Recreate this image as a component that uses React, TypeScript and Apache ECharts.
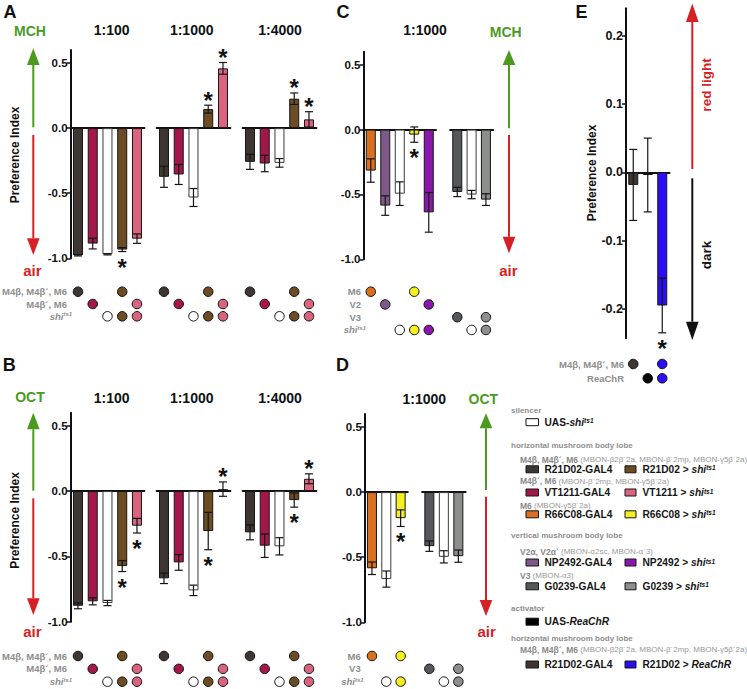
import React, { useEffect, useRef } from 'react';
import * as echarts from 'echarts';

const FONT = '"Liberation Sans", Arial, Helvetica, sans-serif';
const GRAY = '#8e8e8e';
const GREEN = '#4b9a1f';
const RED = '#d71f26';

const COLOR: Record<string, string> = {
  r21: '#3e3632', vt: '#a3174b', shi: '#ffffff', r21shi: '#6c4c23', vtshi: '#da647e',
  r66: '#d8701f', r66shi: '#f5ef22', np: '#7e5888', npshi: '#8b16ae',
  g02: '#55585a', g02shi: '#8c8f8b', rea: '#000000', r21rea: '#2a0ff2',
};

// ---------- Panel A (MCH vs air) and B (OCT vs air): horizontal lobe ----------
const dilutions = ['1:100', '1:1000', '1:4000'];
const hKeys = ['r21', 'vt', 'shi', 'r21shi', 'vtshi'];

const mchMean100 = [-0.977, -0.887, -0.969, -0.933, -0.849];
const mchErr100 = [0.005, 0.041, 0.005, 0.015, 0.036];
const mchSig100 = [0, 0, 0, 1, 0];
const mchMean1000 = [-0.374, -0.356, -0.533, 0.146, 0.459];
const mchErr1000 = [0.081, 0.077, 0.069, 0.03, 0.045];
const mchSig1000 = [0, 0, 0, 1, 1];
const mchMean4000 = [-0.259, -0.272, -0.267, 0.226, 0.067];
const mchErr4000 = [0.058, 0.063, 0.033, 0.044, 0.059];
const mchSig4000 = [0, 0, 0, 1, 1];

const octMean100 = [-0.878, -0.844, -0.857, -0.574, -0.265];
const octErr100 = [0.023, 0.027, 0.02, 0.042, 0.056];
const octSig100 = [0, 0, 0, 1, 1];
const octMean1000 = [-0.668, -0.546, -0.76, -0.306, 0.015];
const octErr1000 = [0.04, 0.06, 0.04, 0.143, 0.055];
const octSig1000 = [0, 0, 0, 1, 1];
const octMean4000 = [-0.316, -0.418, -0.423, -0.069, 0.094];
const octErr4000 = [0.057, 0.09, 0.066, 0.054, 0.038];
const octSig4000 = [0, 0, 0, 1, 1];

// ---------- Panel C (MCH, 1:1000): M6 / V2 / V3 ----------
const cKeysM6V2 = ['r66', 'np', 'shi', 'r66shi', 'npshi'];
const mchM6V2Mean = [-0.316, -0.586, -0.494, -0.039, -0.638];
const mchM6V2Err = [0.09, 0.075, 0.091, 0.059, 0.153];
const mchM6V2Sig = [0, 0, 0, 1, 0];
const v3Keys = ['g02', 'shi', 'g02shi'];
const mchV3Mean = [-0.481, -0.501, -0.54];
const mchV3Err = [0.036, 0.032, 0.045];
const mchV3Sig = [0, 0, 0];

// ---------- Panel D (OCT, 1:1000): M6 / V3 ----------
const dKeysM6 = ['r66', 'shi', 'r66shi'];
const octM6Mean = [-0.585, -0.668, -0.2];
const octM6Err = [0.048, 0.062, 0.064];
const octM6Sig = [0, 0, 1];
const octV3Mean = [-0.415, -0.497, -0.492];
const octV3Err = [0.04, 0.047, 0.047];
const octV3Sig = [0, 0, 0];

// ---------- Panel E (red light vs dark) ----------
const eKeys = ['r21', 'rea', 'r21rea'];
const lightMean = [-0.0185, -0.004, -0.195];
const lightErr = [0.052, 0.054, 0.04];
const lightSig = [0, 0, 1];

// genotype indicator rows (indices into a group's bars)
const hRows = [[0, 3], [1, 4], [2, 3, 4]];
const hRowLabels = ['M4β, M4β´, M6', 'M4β´, M6', 'shi'];
const cRowsA = [[0, 3], [1, 4], [], [2, 3, 4]];
const cRowsB = [[], [], [0, 2], [1, 2]];
const cRowLabels = ['M6', 'V2', 'V3', 'shi'];
const dRowsA = [[0, 2], [], [1, 2]];
const dRowsB = [[], [0, 2], [1, 2]];
const dRowLabels = ['M6', 'V3', 'shi'];
const eRows = [[0, 2], [1, 2]];
const eRowLabels = ['M4β, M4β´, M6', 'ReaChR'];

const odorTicks = [-1, -0.5, 0, 0.5];
const lightTicks = [-0.2, -0.1, 0, 0.1, 0.2];

type Group = {
  left: number; width: number; top: number; height: number; min: number; max: number;
  keys: string[]; mean: number[]; err: number[]; sig: number[];
  showY: boolean; ticks: number[]; labelSize?: number;
  dotTop: number; dotStep: number; rows: number[][];
};

const errRender = (params: any, api: any) => {
  const i = api.value(0), m = api.value(1), e = api.value(2), s = api.value(3);
  const t = api.coord([i, m + e]);
  const b = api.coord([i, m - e]);
  const st = { stroke: '#151515', lineWidth: 1.2 };
  const ch: any[] = [
    { type: 'line', shape: { x1: t[0], y1: t[1], x2: b[0], y2: b[1] }, style: st },
    { type: 'line', shape: { x1: t[0] - 4, y1: t[1], x2: t[0] + 4, y2: t[1] }, style: st },
    { type: 'line', shape: { x1: b[0] - 4, y1: b[1], x2: b[0] + 4, y2: b[1] }, style: st },
  ];
  if (s) {
    const y = m >= 0 ? t[1] - 5 : b[1] + 15.5;
    ch.push({
      type: 'text', x: t[0], y,
      style: { text: '*', fontSize: 24, fontWeight: 'bold', fontFamily: FONT, fill: '#111',
        align: 'center', verticalAlign: 'middle', textAlign: 'center', textVerticalAlign: 'middle' },
    });
  }
  return { type: 'group', children: ch };
};

function buildOption() {
  const grid: any[] = [], xAxis: any[] = [], yAxis: any[] = [], series: any[] = [];

  const addGroup = (g: Group) => {
    const gi = grid.length;
    grid.push({ left: g.left, top: g.top, width: g.width, height: g.height });
    xAxis.push({
      gridIndex: gi, type: 'category', data: g.keys,
      axisLine: { show: true, onZero: true, lineStyle: { color: '#111', width: 2 } },
      axisTick: { show: false }, axisLabel: { show: false }, splitLine: { show: false },
    });
    yAxis.push({
      gridIndex: gi, type: 'value', min: g.min, max: g.max, show: g.showY,
      axisLine: { show: true, lineStyle: { color: '#111', width: 2 } },
      axisTick: { show: true, length: 4, inside: false, lineStyle: { color: '#111', width: 1.5 }, customValues: g.ticks },
      axisLabel: {
        customValues: g.ticks, formatter: (v: number) => v.toFixed(1), fontFamily: FONT,
        fontWeight: 'bold', fontSize: g.labelSize || 11.5, color: '#111', margin: 3,
      },
      splitLine: { show: false },
    });
    series.push({
      type: 'bar', xAxisIndex: gi, yAxisIndex: gi, barWidth: 10, z: 2,
      data: g.mean.map((v, i) => ({
        value: v,
        itemStyle: { color: COLOR[g.keys[i]], borderColor: g.keys[i] === 'shi' ? '#3a3a3a' : '#161616', borderWidth: 1 },
      })),
    });
    series.push({
      type: 'custom', xAxisIndex: gi, yAxisIndex: gi, clip: false, z: 3,
      encode: { x: 0, y: 1 },
      data: g.mean.map((v, i) => [i, v, g.err[i], g.sig[i]]),
      renderItem: errRender,
    });
    // genotype dots
    const di = grid.length;
    const n = g.rows.length;
    grid.push({ left: g.left, top: g.dotTop, width: g.width, height: g.dotStep * (n - 1) });
    xAxis.push({ gridIndex: di, type: 'category', data: g.keys, show: false });
    yAxis.push({ gridIndex: di, type: 'value', min: 0, max: n - 1, inverse: true, show: false });
    const dots: any[] = [];
    g.rows.forEach((row, r) => row.forEach((i) => dots.push({ value: [i, r], itemStyle: { color: COLOR[g.keys[i]] } })));
    series.push({
      type: 'scatter', xAxisIndex: di, yAxisIndex: di, clip: false, symbolSize: 9.5,
      itemStyle: { borderColor: '#111', borderWidth: 1, opacity: 1 }, data: dots,
    });
  };

  const hLefts = [70.6, 156.6, 242.6];
  const mch = [[mchMean100, mchErr100, mchSig100], [mchMean1000, mchErr1000, mchSig1000], [mchMean4000, mchErr4000, mchSig4000]];
  const oct = [[octMean100, octErr100, octSig100], [octMean1000, octErr1000, octSig1000], [octMean4000, octErr4000, octSig4000]];
  mch.forEach((d, k) => addGroup({
    left: hLefts[k], width: 73.75, top: 50, height: 208.3, min: -1, max: 0.6,
    keys: hKeys, mean: d[0], err: d[1], sig: d[2], showY: k === 0, ticks: odorTicks,
    dotTop: 291.7, dotStep: 12.3, rows: hRows,
  }));
  oct.forEach((d, k) => addGroup({
    left: hLefts[k], width: 73.75, top: 412.7, height: 209, min: -1, max: 0.6,
    keys: hKeys, mean: d[0], err: d[1], sig: d[2], showY: k === 0, ticks: odorTicks,
    dotTop: 656, dotStep: 12.85, rows: hRows,
  }));
  addGroup({
    left: 363.5, width: 72.5, top: 51.7, height: 207.6, min: -1, max: 0.6,
    keys: cKeysM6V2, mean: mchM6V2Mean, err: mchM6V2Err, sig: mchM6V2Sig, showY: true, ticks: odorTicks,
    dotTop: 291.7, dotStep: 12.75, rows: cRowsA,
  });
  addGroup({
    left: 450.1, width: 43, top: 51.7, height: 207.6, min: -1, max: 0.6,
    keys: v3Keys, mean: mchV3Mean, err: mchV3Err, sig: mchV3Sig, showY: false, ticks: odorTicks,
    dotTop: 291.7, dotStep: 12.75, rows: cRowsB,
  });
  addGroup({
    left: 364.8, width: 43, top: 414, height: 208.3, min: -1, max: 0.6,
    keys: dKeysM6, mean: octM6Mean, err: octM6Err, sig: octM6Sig, showY: true, ticks: odorTicks,
    dotTop: 656, dotStep: 12.8, rows: dRowsA,
  });
  addGroup({
    left: 422.1, width: 43.5, top: 414, height: 208.3, min: -1, max: 0.6,
    keys: v3Keys, mean: octV3Mean, err: octV3Err, sig: octV3Sig, showY: false, ticks: odorTicks,
    dotTop: 656, dotStep: 12.8, rows: dRowsB,
  });
  addGroup({
    left: 626, width: 43.5, top: 8.3, height: 330, min: -0.243, max: 0.24,
    keys: eKeys, mean: lightMean, err: lightErr, sig: lightSig, showY: true, ticks: lightTicks, labelSize: 12.5,
    dotTop: 364, dotStep: 14.3, rows: eRows,
  });

  // ---------- graphic (labels, arrows, legend) ----------
  const els: any[] = [];
  const T = (x: number, y: number, text: string, size: number, fill = '#111', o: any = {}) => {
    const align = o.align || 'center';
    els.push({
      type: 'text', x, y, rotation: o.rotation || 0, silent: true, z: 10,
      style: {
        text, fill, fontSize: size, fontWeight: o.weight || 'bold', fontStyle: o.fstyle || 'normal',
        fontFamily: o.family || FONT, align, verticalAlign: 'middle', textAlign: align, textVerticalAlign: 'middle',
        rich: o.rich,
      },
    });
  };
  const arrowUp = (x: number, tip: number, base: number, end: number, color: string) => {
    els.push({ type: 'line', silent: true, shape: { x1: x, y1: base, x2: x, y2: end }, style: { stroke: color, lineWidth: 2 } });
    els.push({ type: 'polygon', silent: true, shape: { points: [[x, tip], [x - 6.3, base], [x + 6.3, base]] }, style: { fill: color } });
  };
  const arrowDown = (x: number, start: number, base: number, tip: number, color: string) => {
    els.push({ type: 'line', silent: true, shape: { x1: x, y1: start, x2: x, y2: base }, style: { stroke: color, lineWidth: 2 } });
    els.push({ type: 'polygon', silent: true, shape: { points: [[x, tip], [x - 6.3, base], [x + 6.3, base]] }, style: { fill: color } });
  };

  // panel letters
  T(10, 11.7, 'A', 18); T(9.3, 365, 'B', 18); T(343, 11.7, 'C', 18); T(342.5, 365, 'D', 18); T(581.5, 11.7, 'E', 18);
  // titles
  const hCenters = [111.7, 191.7, 280];
  dilutions.forEach((d, k) => { T(hCenters[k], 30, d, 14); T(hCenters[k], 398.3, d, 14); });
  T(425, 30, '1:1000', 14); T(424.3, 399, '1:1000', 14);
  // y axis names
  T(15, 155, 'Preference Index', 12, '#111', { rotation: Math.PI / 2 });
  T(15, 520.5, 'Preference Index', 12, '#111', { rotation: Math.PI / 2 });
  T(591.7, 173, 'Preference Index', 12, '#111', { rotation: Math.PI / 2 });

  // odor arrows
  const odorArrow = (x: number, topLabel: string, lx: number, ly: number, tip: number, base: number, end: number,
    start: number, base2: number, tip2: number, ax: number, ay: number) => {
    T(lx, ly, topLabel, 14, GREEN);
    arrowUp(x, tip, base, end, GREEN);
    arrowDown(x, start, base2, tip2, RED);
    T(ax, ay, 'air', 15, RED);
  };
  odorArrow(33.3, 'MCH', 30, 31, 48.3, 65, 127.3, 135, 238.3, 255, 32.3, 270);
  odorArrow(33.3, 'OCT', 30, 396.7, 412.7, 429.3, 490.7, 498.3, 598.3, 615, 32.3, 631.7);
  odorArrow(509, 'MCH', 505.7, 31.7, 50, 65, 128.3, 135, 236.7, 253.3, 508.3, 270.7);
  odorArrow(486, 'OCT', 483.3, 399, 413.3, 428.3, 490, 496.7, 600, 616, 486.7, 631.7);
  // light arrows
  arrowUp(692.3, 3.5, 22, 169, RED);
  arrowDown(692.3, 178.3, 321.7, 340, '#111');
  T(706.7, 85, 'red light', 13.5, RED, { rotation: Math.PI / 2 });
  T(706.7, 255, 'dark', 13.5, '#111', { rotation: Math.PI / 2 });

  // genotype row labels
  const shiRich = (size: number, color: string) => ({
    i: { fontStyle: 'italic', fontWeight: 'bold', fontSize: size, fill: color, fontFamily: FONT },
    s: { fontStyle: 'italic', fontWeight: 'bold', fontSize: size * 0.62, fill: color, fontFamily: FONT, verticalAlign: 'top' },
  });
  const rowLabels = (labels: string[], right: number, shiRight: number, top: number, step: number) => {
    labels.forEach((l, r) => {
      const y = top + r * step;
      if (l === 'shi') T(shiRight, y, '{i|shi}{s|ts1}', 9.5, GRAY, { align: 'right', rich: shiRich(9.5, GRAY) });
      else T(right, y, l, 9.5, GRAY, { align: 'right' });
    });
  };
  rowLabels(hRowLabels, 67, 72, 291.7, 12.3);
  rowLabels(hRowLabels, 67, 72, 656, 12.85);
  rowLabels(cRowLabels, 361, 366, 291.7, 12.75);
  rowLabels(dRowLabels, 360.7, 363.5, 656, 12.8);
  rowLabels(eRowLabels, 624, 624, 364, 14.3);

  // ---------- legend ----------
  const HX = 511, SX = 520, B1 = 526, T1 = 544.5, B2 = 625, T2 = 642.5;
  const header = (y: number, s: string) => T(HX, y, s, 8, GRAY, { align: 'left' });
  const sub = (y: number, bold: string, rest: string) => T(SX, y, `{b|${bold}} {n|${rest}}`, 8, GRAY, {
    align: 'left',
    rich: {
      b: { fontWeight: 'bold', fontSize: 8.5, fill: '#8a8a8a', fontFamily: FONT },
      n: { fontWeight: 'normal', fontSize: 8, fill: '#999999', fontFamily: FONT },
    },
  });
  const mainRich = {
    b: { fontWeight: 'bold', fontSize: 10.2, fill: '#161616', fontFamily: FONT },
    bi: { fontWeight: 'bold', fontStyle: 'italic', fontSize: 10.2, fill: '#161616', fontFamily: FONT },
    s: { fontWeight: 'bold', fontStyle: 'italic', fontSize: 6.5, fill: '#161616', fontFamily: FONT, verticalAlign: 'top' },
  };
  const box = (x: number, y: number, w: number, key: string) => els.push({
    type: 'rect', silent: true, shape: { x, y: y - 3.5, width: w, height: 7 },
    style: { fill: COLOR[key], stroke: '#161616', lineWidth: 1 },
  });
  const entry = (x: number, tx: number, w: number, y: number, key: string, richText: string) => {
    box(x, y, w, key);
    T(tx, y, richText, 10.2, '#161616', { align: 'left', rich: mainRich });
  };
  header(410, 'silencer');
  entry(B1, T1, 12.5, 422.2, 'shi', '{b|UAS-}{bi|shi}{s|ts1}');
  header(445.5, 'horizontal mushroom body lobe');
  sub(459.5, 'M4β, M4β´, M6', '(MBON-β2β´2a, MBON-β´2mp, MBON-γ5β´2a)');
  entry(B1, T1, 12.5, 469.3, 'r21', '{b|R21D02-GAL4}');
  entry(B2, T2, 11, 469.3, 'r21shi', '{b|R21D02 > }{bi|shi}{s|ts1}');
  sub(481.2, 'M4β´, M6', '(MBON-β´2mp, MBON-γ5β´2a)');
  entry(B1, T1, 12.5, 492.5, 'vt', '{b|VT1211-GAL4}');
  entry(B2, T2, 11, 492.5, 'vtshi', '{b|VT1211 > }{bi|shi}{s|ts1}');
  sub(505.5, 'M6', '(MBON-γ5β´2a)');
  entry(B1, T1, 12.5, 514.3, 'r66', '{b|R66C08-GAL4}');
  entry(B2, T2, 11, 514.3, 'r66shi', '{b|R66C08 > }{bi|shi}{s|ts1}');
  header(535.5, 'vertical mushroom body lobe');
  sub(551.7, 'V2α, V2α´', '(MBON-α2sc, MBON-α´3)');
  entry(B1, T1, 12.5, 562.5, 'np', '{b|NP2492-GAL4}');
  entry(B2, T2, 11, 562.5, 'npshi', '{b|NP2492 > }{bi|shi}{s|ts1}');
  sub(575.5, 'V3', '(MBON-α3)');
  entry(B1, T1, 12.5, 586.3, 'g02', '{b|G0239-GAL4}');
  entry(B2, T2, 11, 586.3, 'g02shi', '{b|G0239 > }{bi|shi}{s|ts1}');
  header(608, 'activator');
  entry(B1, T1, 12.5, 621.7, 'rea', '{b|UAS-}{bi|ReaChR}');
  header(638, 'horizontal mushroom body lobe');
  sub(649.5, 'M4β, M4β´, M6', '(MBON-β2β´2a, MBON-β´2mp, MBON-γ5β´2a)');
  entry(B1, T1, 12.5, 664.5, 'r21', '{b|R21D02-GAL4}');
  entry(B2, T2, 11, 664.5, 'r21rea', '{b|R21D02 > }{bi|ReaChR}');

  return {
    animation: false,
    backgroundColor: '#ffffff',
    grid, xAxis, yAxis, series,
    graphic: { elements: els },
  };
}

export default function App() {
  const ref = useRef<HTMLDivElement>(null);
  useEffect(() => {
    document.body.style.margin = '0';
    const chart = echarts.init(ref.current!, null, { renderer: 'svg' });
    chart.setOption(buildOption() as any);
    return () => chart.dispose();
  }, []);
  return <div ref={ref} style={{ width: 747, height: 689 }} />;
}
